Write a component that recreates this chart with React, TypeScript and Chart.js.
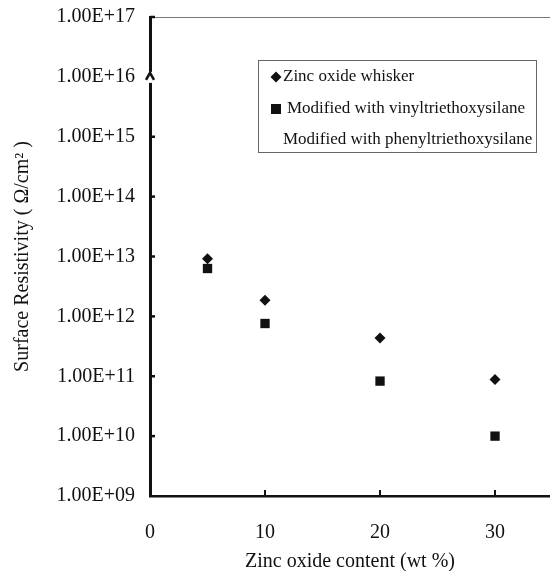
import { useEffect, useRef } from "react";
import { Chart, registerables } from "chart.js";

Chart.register(...registerables);

const zincContent = [5, 10, 20, 30];
const whiskerValues = [9.2e12, 1.86e12, 4.35e11, 8.8e10];
const vinylValues = [6.3e12, 7.6e11, 8.3e10, 1.0e10];
const phenylValues: number[] = [];
const seriesLabels = [
  "Zinc oxide whisker",
  "Modified with vinyltriethoxysilane",
  "Modified with phenyltriethoxysilane",
];
const yTickExponents = [9, 10, 11, 12, 13, 14, 15, 16, 17];
const xTickValues = [0, 10, 20, 30];
const xTitle = "Zinc oxide content (wt %)";
const yTitle = "Surface Resistivity ( Ω/cm² )";

const FONT = "'Liberation Serif', 'Times New Roman', serif";

const decorPlugin = {
  id: "decor",
  afterDraw(chart: any) {
    const { ctx, chartArea } = chart;
    const xs = chart.scales.x;
    const ys = chart.scales.y;
    ctx.save();
    // top frame line
    ctx.strokeStyle = "#777";
    ctx.lineWidth = 1;
    ctx.beginPath();
    ctx.moveTo(chartArea.left, chartArea.top + 0.5);
    ctx.lineTo(chartArea.right, chartArea.top + 0.5);
    ctx.stroke();
    // inward y ticks
    ctx.strokeStyle = "#111";
    ctx.lineWidth = 2.5;
    yTickExponents.forEach((e) => {
      if (e === 9 || e === 16) return;
      const y = ys.getPixelForValue(Math.pow(10, e));
      ctx.beginPath();
      ctx.moveTo(chartArea.left, y);
      ctx.lineTo(chartArea.left + 5, y);
      ctx.stroke();
    });
    // inward x ticks
    ctx.lineWidth = 2;
    xTickValues.forEach((v) => {
      if (v === 0) return;
      const x = xs.getPixelForValue(v);
      ctx.beginPath();
      ctx.moveTo(x, chartArea.bottom);
      ctx.lineTo(x, chartArea.bottom - 6);
      ctx.stroke();
    });
    // axis break at 1e16
    const yb = ys.getPixelForValue(1e16);
    ctx.fillStyle = "#fff";
    ctx.fillRect(chartArea.left - 4, yb - 5, 8, 11);
    ctx.strokeStyle = "#111";
    ctx.lineWidth = 2.5;
    ctx.beginPath();
    ctx.moveTo(chartArea.left - 4, yb + 3);
    ctx.lineTo(chartArea.left, yb - 4);
    ctx.lineTo(chartArea.left + 4, yb + 3);
    ctx.stroke();
    // legend box
    const lx = chartArea.left + 108;
    const ly = chartArea.top + 43;
    const lw = 278;
    const lh = 92;
    ctx.strokeStyle = "#666";
    ctx.lineWidth = 1;
    ctx.strokeRect(lx + 0.5, ly + 0.5, lw, lh);
    const rows = [ly + 17, ly + 49, ly + 80];
    ctx.font = "17px " + FONT;
    ctx.fillStyle = "#111";
    ctx.textBaseline = "middle";
    ctx.textAlign = "left";
    chart.data.datasets.forEach((ds: any, i: number) => {
      const cy = rows[i];
      const mx = lx + 18;
      ctx.fillStyle = "#111";
      ctx.beginPath();
      if (ds.pointStyle === "rectRot") {
        ctx.moveTo(mx - 5.5, cy);
        ctx.lineTo(mx, cy - 5.5);
        ctx.lineTo(mx + 5.5, cy);
        ctx.lineTo(mx, cy + 5.5);
        ctx.closePath();
        ctx.fill();
      } else if (ds.pointStyle === "rect") {
        ctx.rect(mx - 5, cy - 5, 10, 10);
        ctx.fill();
      }
      const tx = ds.pointStyle === "rect" ? lx + 29 : lx + 25;
      ctx.fillText(ds.label, tx, cy);
    });
    ctx.restore();
  },
};

export default function App() {
  const ref = useRef<HTMLCanvasElement | null>(null);
  useEffect(() => {
    if (!ref.current) return;
    const chart = new Chart(ref.current, {
      type: "scatter",
      data: {
        datasets: [
          {
            label: seriesLabels[0],
            data: zincContent.map((x, i) => ({ x, y: whiskerValues[i] })),
            pointStyle: "rectRot",
            pointRadius: 5.5,
            backgroundColor: "#111",
            borderColor: "#111",
            borderWidth: 0,
          },
          {
            label: seriesLabels[1],
            data: zincContent.map((x, i) => ({ x, y: vinylValues[i] })),
            pointStyle: "rect",
            pointRadius: 6.6,
            backgroundColor: "#111",
            borderColor: "#111",
            borderWidth: 0,
          },
          {
            label: seriesLabels[2],
            data: phenylValues.map((y, i) => ({ x: zincContent[i], y })),
            pointStyle: false as any,
            backgroundColor: "#fff",
            borderColor: "#fff",
          },
        ],
      },
      options: {
        responsive: false,
        animation: false,
        layout: { autoPadding: false, padding: { top: 17, right: 0, left: 0, bottom: 0 } },
        plugins: { legend: { display: false }, tooltip: { enabled: false } },
        scales: {
          x: {
            type: "linear",
            min: 0,
            max: 34.78,
            afterBuildTicks: (s: any) => {
              s.ticks = xTickValues.map((v) => ({ value: v }));
            },
            afterFit: (s: any) => {
              s.height = 75;
              s.paddingLeft = 0;
              s.paddingRight = 0;
            },
            grid: { drawOnChartArea: false, drawTicks: false },
            border: { display: true, color: "#111", width: 2.5 },
            ticks: {
              padding: 25,
              color: "#111",
              font: { family: FONT, size: 20 },
              maxRotation: 0,
              callback: (v: any) => String(v),
            },
            title: {
              display: true,
              text: xTitle,
              color: "#111",
              font: { family: FONT, size: 20, lineHeight: 0.9 },
              padding: { top: 0, bottom: 0 },
            },
          },
          y: {
            type: "logarithmic",
            min: 1e9,
            max: 1e17,
            afterBuildTicks: (s: any) => {
              s.ticks = yTickExponents.map((e) => ({ value: Math.pow(10, e) }));
            },
            afterFit: (s: any) => {
              s.width = 150;
              s.paddingTop = 0;
              s.paddingBottom = 0;
            },
            grid: { drawOnChartArea: false, drawTicks: false },
            border: { display: true, color: "#111", width: 3 },
            ticks: {
              padding: 15,
              color: "#111",
              font: { family: FONT, size: 20 },
              callback: (v: any) => {
                const e = Math.round(Math.log10(Number(v)));
                return "1.00E+" + (e < 10 ? "0" + e : String(e));
              },
            },
            title: {
              display: true,
              text: yTitle,
              color: "#111",
              font: { family: FONT, size: 20, lineHeight: 1 },
              padding: { top: 13, bottom: 0 },
            },
          },
        },
      },
      plugins: [decorPlugin],
    });
    return () => chart.destroy();
  }, []);
  return (
    <div style={{ position: "fixed", left: 0, top: 0, width: 550, height: 571, background: "#fff" }}>
      <canvas ref={ref} width={550} height={571} />
    </div>
  );
}
